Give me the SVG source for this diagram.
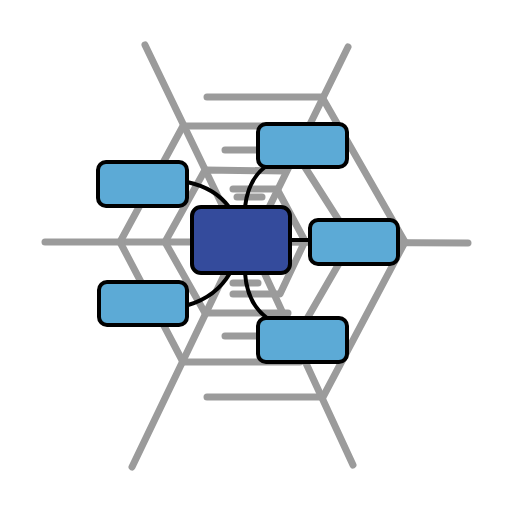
<svg xmlns="http://www.w3.org/2000/svg" width="512" height="512" viewBox="0 0 512 512">
<style>
.web{fill:none;stroke:#9b9b9b;stroke-width:7;stroke-linecap:round;stroke-linejoin:round}
.node rect{stroke:#000;stroke-width:4}
.leaf rect{fill:#5caad6}
.hub rect{fill:#344b9c}
.conn{fill:none;stroke:#000;stroke-width:4;stroke-linecap:round}
</style>
<rect width="512" height="512" fill="#fff"/>
<g id="web">
  <path class="web" d="M145,45 L240,242"/>
  <path class="web" d="M348,47 L252,242"/>
  <path class="web" d="M45,242 L240,242"/>
  <path class="web" d="M468,243 L250,242"/>
  <path class="web" d="M132,467 L240,242"/>
  <path class="web" d="M353,465 L250,242"/>
  <path class="web" d="M207,97 L322,97 L405,242 L323,397 L207,397"/>
  <path class="web" d="M305,126 L183,126 L120,242 L183,362 L300,362"/>
  <path class="web" d="M225,150 L294,150 L352,241 L297,336 L225,336"/>
  <path class="web" d="M284,171 L205,170 L165,242 L205,313 L288,313"/>
  <path class="web" d="M233,189 L277,189 L305,241 L280,294 L233,294"/>
  <path class="web" d="M237,197 L262,197"/>
  <path class="web" d="M233,283 L258,283"/>
</g>
<g id="connectors">
  <path class="conn" d="M187,182 Q215,188 229,207"/>
  <path class="conn" d="M265,167 Q248,180 245,207"/>
  <path class="conn" d="M290,240 L310,240"/>
  <path class="conn" d="M230,273 Q216,297 188,305"/>
  <path class="conn" d="M245,273 Q247,303 267,318"/>
</g>
<g id="hub" class="node hub"><rect x="192" y="207" width="98" height="66" rx="9"/></g>
<g id="n-top-left" class="node leaf"><rect x="98" y="162" width="89" height="44" rx="8"/></g>
<g id="n-top-right" class="node leaf"><rect x="258" y="124" width="89" height="43" rx="8"/></g>
<g id="n-right" class="node leaf"><rect x="310" y="220" width="88" height="44" rx="8"/></g>
<g id="n-bottom-left" class="node leaf"><rect x="99" y="282" width="88" height="43" rx="8"/></g>
<g id="n-bottom-right" class="node leaf"><rect x="258" y="318" width="89" height="44" rx="8"/></g>
</svg>
